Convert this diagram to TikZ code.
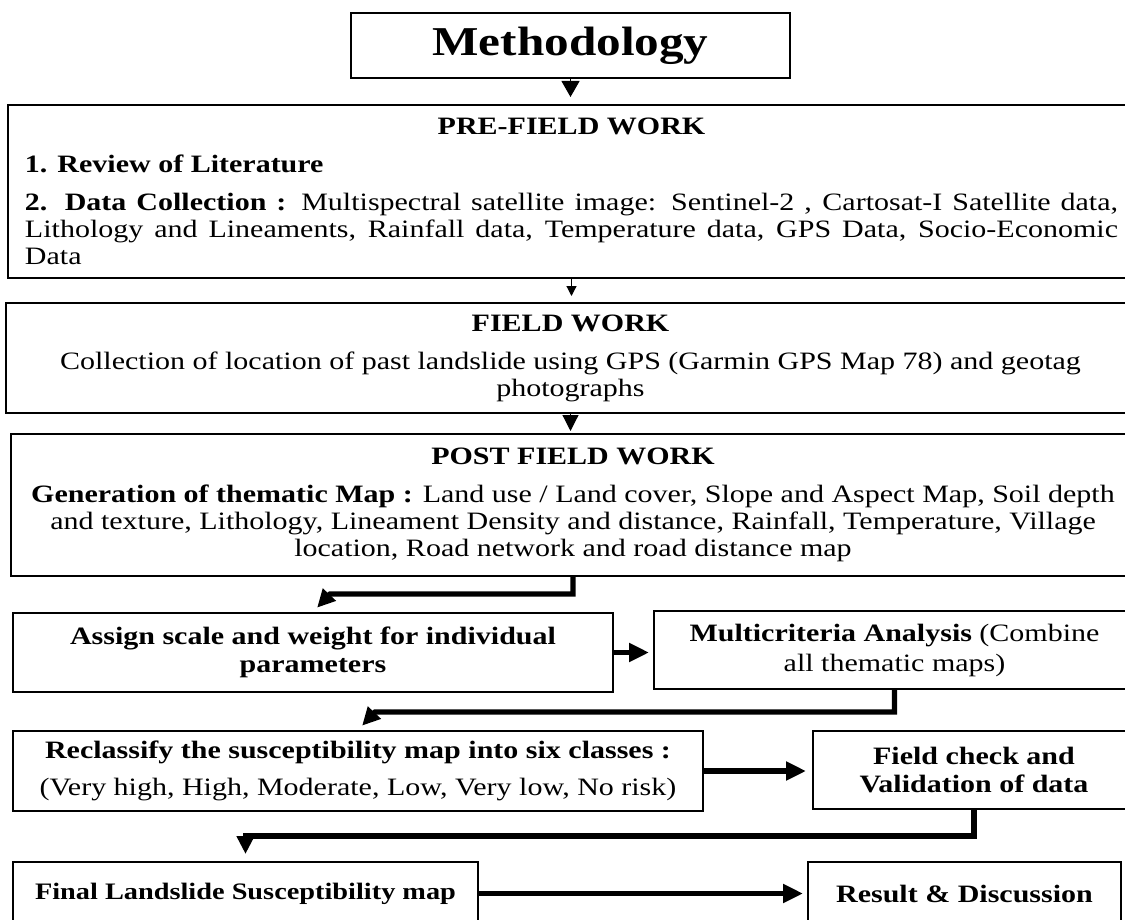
\documentclass[tikz,border=0pt]{standalone}
\usepackage{fontspec}
\setmainfont{Liberation Serif}[FakeStretch=1.2]
\usetikzlibrary{arrows.meta,calc}

\begin{document}
\begin{tikzpicture}[x=0.5pt,y=-0.5pt,
    box/.style={draw, line width=1pt, inner sep=0pt, align=center, font=\fontsize{12.5}{13.5}\selectfont},
    thin arrow/.style={line width=0.6pt, -{Triangle[width=9pt,length=8pt]}},
    thick arrow/.style={line width=2.6pt, -{Triangle[width=9pt,length=10pt]}},
    elbow/.style={line width=2.6pt, -{Triangle[width=8.5pt,length=9pt]}}]
    \useasboundingbox (0,0) rectangle (1125,920);
    \clip (0,0) rectangle (1125,920);

    % top column of wide boxes
    \node[box, minimum width=219.5pt, minimum height=32.5pt] (meth) at (570.5,45.5)
      {\fontsize{20.5}{24}\selectfont\bfseries Methodology};
    \node[box, minimum width=563.5pt, minimum height=86.5pt, text width=546.5pt, align=justify] (pre) at (571.5,191.5)
      {\makebox[\linewidth]{\textbf{PRE-FIELD WORK}}\\[5.5pt]
       \textbf{1. Review of Literature}\\[5.5pt]
       \textbf{2. Data Collection :} Multispectral satellite image: Sentinel-2 , Cartosat-I Satellite data,\linebreak
       Lithology and Lineaments, Rainfall data, Temperature data, GPS Data, Socio-Economic\linebreak Data};
    \node[box, minimum width=564.5pt, minimum height=55pt] (field) at (570.5,358)
      {\textbf{FIELD WORK}\\[5.5pt]
       Collection of location of past landslide using GPS (Garmin GPS Map 78) and geotag\\
       photographs};
    \node[box, minimum width=562pt, minimum height=71pt] (post) at (573,505)
      {\textbf{POST FIELD WORK}\\[5.5pt]
       \textbf{Generation of thematic Map :} Land use / Land cover, Slope and Aspect Map, Soil depth\\
       and texture, Lithology, Lineament Density and distance, Rainfall, Temperature, Village\\
       location, Road network and road distance map};

    % lower rows
    \node[box, minimum width=300pt, minimum height=39.5pt, font=\fontsize{12.5}{14}\selectfont\bfseries] (assign) at (313,652.5)
      {Assign scale and weight for individual\\ parameters};
    \node[box, minimum width=240.5pt, minimum height=39pt, font=\fontsize{12.5}{15}\selectfont] (multi) at (894.5,650)
      {\textbf{Multicriteria Analysis} (Combine\\ all thematic maps)};
    \node[box, minimum width=345pt, minimum height=40pt] (reclass) at (358,771)
      {\textbf{Reclassify the susceptibility map into six classes :}\\[5pt]
       (Very high, High, Moderate, Low, Very low, No risk)};
    \node[box, minimum width=161pt, minimum height=39pt, font=\fontsize{12.5}{14}\selectfont\bfseries] (fieldchk) at (974,770)
      {Field check and\\ Validation of data};
    \node[box, minimum width=232.5pt, minimum height=31.5pt, font=\fontsize{11.8}{14}\selectfont\bfseries] (final) at (245.5,893.5)
      {Final Landslide Susceptibility map};
    \node[box, minimum width=156.5pt, minimum height=31.5pt, font=\fontsize{12.5}{14}\selectfont\bfseries] (result) at (964.5,893.5)
      {Result \& Discussion};

    % connectors
    \draw[thin arrow, shorten >=3.5pt] (meth.south) -- (meth.south |- pre.north);
    \draw[line width=0.6pt, -{Triangle[width=5pt,length=5pt]}, shorten >=3pt] (pre.south) -- (pre.south |- field.north);
    \draw[thin arrow, -{Triangle[width=8pt,length=8pt]}, shorten >=1pt] (field.south) -- (field.south |- post.north);
    \draw[elbow, shorten >=3pt] (post.south) |- ($(assign.north)+(17,-18)$) -- (assign.north);
    \draw[thick arrow, shorten >=2pt] (assign.east) -- (assign.east -| multi.west);
    \draw[elbow, shorten >=3pt] (multi.south) |- ($(reclass.north)+(17,-18)$) -- (reclass.north);
    \draw[thick arrow, shorten >=3pt] (reclass.east) -- (reclass.east -| fieldchk.west);
    \draw[elbow, shorten >=3.5pt] (fieldchk.south) |- ($(final.north)+(0,-25)$) -- (final.north);
    \draw[thick arrow, shorten >=2pt] (final.east) -- (final.east -| result.west);
\end{tikzpicture}
\end{document}
